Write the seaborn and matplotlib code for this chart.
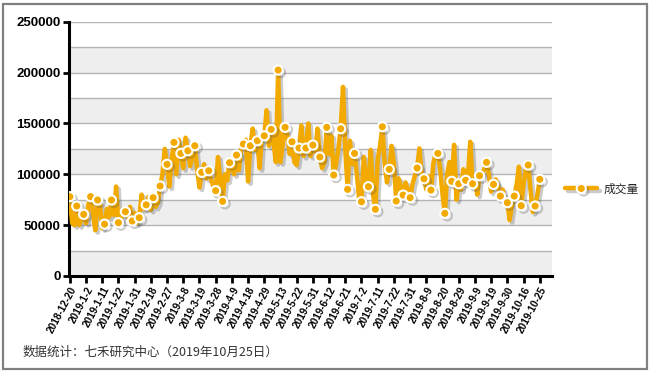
import numpy as np
import pandas as pd
import matplotlib
matplotlib.use('Agg')
import matplotlib.pyplot as plt
import seaborn as sns
import matplotlib.patheffects as pe
from matplotlib.lines import Line2D
from matplotlib.patches import Rectangle

# ---------------- data ----------------
tick_labels = ['2018-12-20', '2019-1-2', '2019-1-11', '2019-1-22', '2019-1-31', '2019-2-18',
               '2019-2-27', '2019-3-8', '2019-3-19', '2019-3-28', '2019-4-9', '2019-4-18',
               '2019-4-29', '2019-5-13', '2019-5-22', '2019-5-31', '2019-6-12', '2019-6-21',
               '2019-7-2', '2019-7-11', '2019-7-22', '2019-7-31', '2019-8-9', '2019-8-20',
               '2019-8-29', '2019-9-9', '2019-9-19', '2019-9-30', '2019-10-16', '2019-10-25']

volume = [
    78000, 52000, 50000, 68800, 50000, 56000, 60600, 52000, 70000, 78000,
    62000, 45000, 74700, 71000, 47000, 51000, 66000, 58000, 74700, 60000,
    88000, 52400, 55000, 66000, 63200, 58000, 68000, 54100, 62000, 52000,
    57300, 80000, 66000, 70000, 78000, 65000, 77000, 68000, 72000, 88500,
    100000, 125000, 109800, 88000, 115000, 131400, 100000, 134000, 120600, 106000,
    136000, 123200, 108000, 118000, 128100, 105000, 87000, 101900, 110000, 96000,
    103500, 95000, 88000, 83900, 117000, 96000, 73400, 100000, 94000, 111400,
    106000, 100000, 118900, 104000, 125000, 129800, 134000, 93000, 128100, 145000,
    124000, 133000, 106000, 140000, 137900, 163000, 128000, 144200, 131000, 112000,
    202500, 112000, 130000, 146200, 138000, 120000, 132000, 112000, 109000, 125800,
    148000, 118000, 125800, 150000, 118000, 128800, 122000, 145000, 117000, 106000,
    112000, 146200, 120000, 138000, 99300, 110000, 125000, 144800, 186000, 125000,
    85200, 133000, 110000, 120600, 100000, 75000, 73000, 117000, 96000, 87800,
    124000, 80000, 65600, 115000, 128000, 146800, 112000, 92000, 104900, 128000,
    110000, 73700, 96000, 88000, 79600, 92000, 85000, 77000, 90000, 98000,
    106200, 125500, 100000, 95600, 85000, 98000, 84500, 110000, 121000, 120600,
    105000, 80000, 61600, 100000, 112000, 93100, 129000, 75000, 90700, 85000,
    105000, 94100, 100000, 132000, 90700, 96000, 80000, 98600, 100000, 105000,
    111800, 100000, 83000, 90100, 95000, 88000, 78600, 85000, 72000, 72100,
    55000, 70000, 78600, 90000, 107500, 69100, 90000, 105000, 109100, 85000,
    63000, 68800, 80000, 95100,
]

series_name = '成交量'
footer = '数据统计：七禾研究中心（2019年10月25日）'

# ---------------- style ----------------
sns.set_theme(style='white')
plt.rcParams['font.family'] = ['Liberation Sans', 'Noto Sans CJK SC']

color = '#F2A900'
fig = plt.figure(figsize=(6.52, 3.76), dpi=100)
ax = fig.add_axes([0.106, 0.266, 0.741, 0.676])

# alternating bands and gridlines
for k in range(0, 250000, 50000):
    ax.axhspan(k, k + 25000, color='#EEEEEE', zorder=0, lw=0)
for k in range(25000, 250001, 25000):
    ax.axhline(k, color='#B4B4B4', lw=1, zorder=0.5)

df = pd.DataFrame({'idx': np.arange(len(volume)), 'vol': volume})
shadow = [pe.SimpleLineShadow(offset=(1.8, -1.8), shadow_color='#555555', alpha=0.3), pe.Normal()]
mk = list(range(0, len(volume) - 2, 3)) + [len(volume) - 1]

sns.lineplot(data=df, x='idx', y='vol', ax=ax, color=color, lw=3.2,
             marker='o', markevery=mk, markersize=6.6, markerfacecolor=color,
             markeredgecolor='white', markeredgewidth=1.5,
             path_effects=shadow, legend=False, zorder=3)

ax.set_xlim(-0.3, 208.4)
ax.set_ylim(0, 250000)
ax.set_xlabel('')
ax.set_ylabel('')

ax.set_yticks(range(0, 250001, 50000))
ax.set_yticklabels([str(v) for v in range(0, 250001, 50000)], fontsize=9.5, fontweight='bold')
xt = list(range(0, len(volume), 7))
ax.set_xticks(xt)
ax.set_xticklabels(tick_labels, rotation=62, ha='right', rotation_mode='anchor',
                   fontsize=7.2, fontweight='bold')

ax.tick_params(axis='y', direction='out', length=4, width=2, colors='black', pad=2, left=True)
ax.tick_params(axis='x', direction='out', length=5, width=2, colors='black', pad=1.5, bottom=True)

for s in ['top', 'right']:
    ax.spines[s].set_visible(False)
for s in ['left', 'bottom']:
    ax.spines[s].set_visible(True)
    ax.spines[s].set_color('black')
    ax.spines[s].set_linewidth(2.2)

# legend
handle = Line2D([0], [0], color=color, lw=3.2, marker='o', markersize=6.6,
                markerfacecolor=color, markeredgecolor='white', markeredgewidth=1.5,
                path_effects=shadow)
fig.legend([handle], [series_name], loc='center left', bbox_to_anchor=(0.858, 0.497),
           frameon=False, handlelength=2.7, handletextpad=0.5, borderpad=0,
           prop={'family': ['Noto Sans CJK SC'], 'size': 8.5})

# footer
fig.text(22.5 / 652, 1 - 352 / 376, footer, fontsize=9, va='center', ha='left',
         color='#333333', family=['Noto Sans CJK SC', 'DejaVu Sans'])

# figure border
fig.patches.append(Rectangle((0.005, 0.018), 0.987, 0.971, transform=fig.transFigure,
                             fill=False, edgecolor='#808080', lw=1.6, zorder=10))

fig.savefig('out.png', dpi=100)
